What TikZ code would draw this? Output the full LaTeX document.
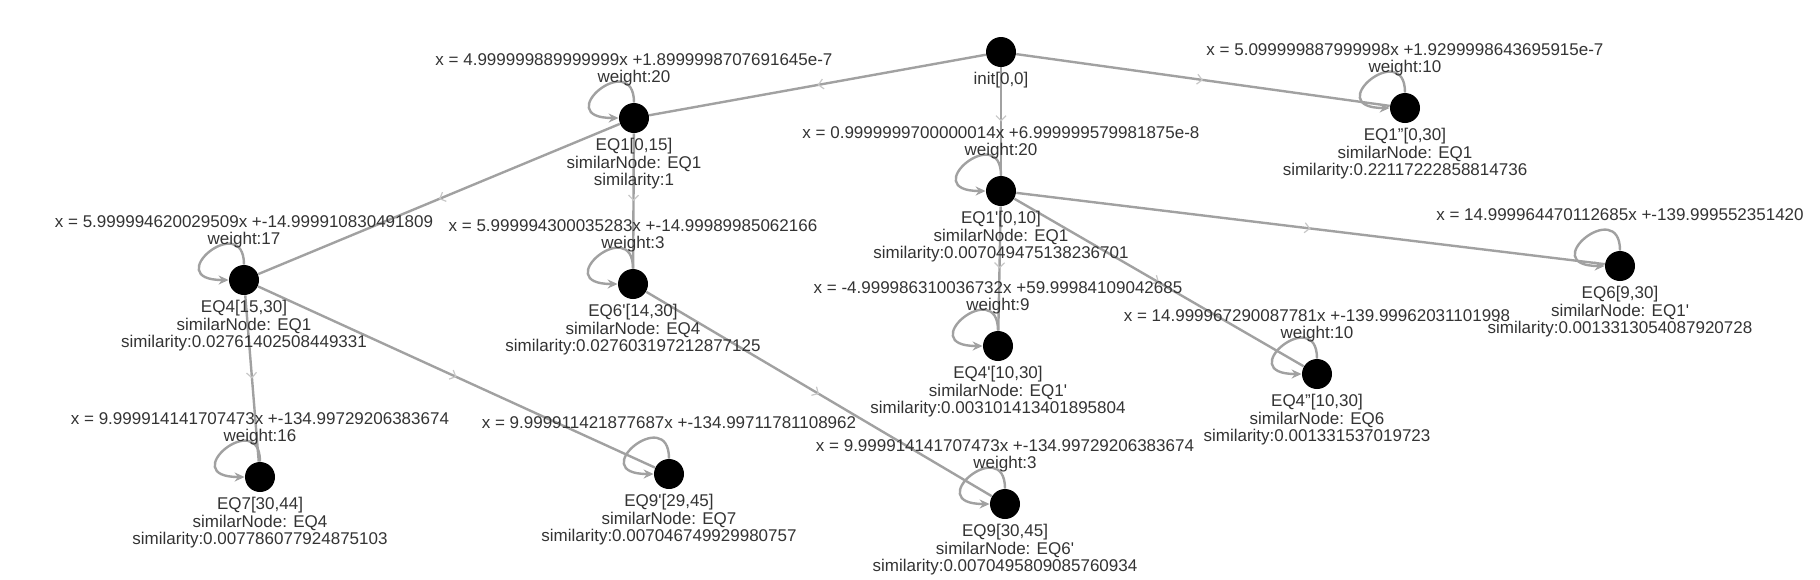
\documentclass[tikz,border=0pt]{standalone}
\usepackage{fontspec}
\setmainfont{Liberation Sans}
\usetikzlibrary{positioning, arrows.meta, decorations.markings}
\newcommand{\sq}{\textquotesingle}

\begin{document}
\begin{tikzpicture}[x=0.5pt, y=-0.5pt,
  eq/.style={circle, fill=black, inner sep=0pt, minimum size=15pt},
  info/.style={align=center, inner sep=0pt, text=black!80, font=\fontsize{8.5}{8.6}\selectfont},
  link/.style={draw=black!37, line width=1.2pt, postaction={decorate},
    decoration={markings, mark=at position 0.5 with {\arrow[black!22]{Straight Barb[length=2.5pt, width=5pt, line width=0.6pt]}}}},
  selfloop/.style={draw=black!37, line width=1.2pt, -{Stealth[length=5pt, width=4.5pt]}}]
  \useasboundingbox (0,0) rectangle (1820,579);
  % graph nodes
  \path (1001,52) node[eq] (init) {} (634,118) node[eq] (eq1) {}
  (1405,108) node[eq] (eq1pp) {} (1001,191) node[eq] (eq1p) {}
  (244,280) node[eq] (eq4) {} (633,284) node[eq] (eq6p) {}
  (1620,266) node[eq] (eq6) {} (998,346) node[eq] (eq4p) {}
  (1317,374) node[eq] (eq4pp) {} (260,477) node[eq] (eq7) {}
  (669,474) node[eq] (eq9p) {} (1005,504) node[eq] (eq9) {};
  % transitions
  \draw[link] (init) -- (eq1);
  \draw[link] (init) -- (eq1pp);
  \draw[link] (init) -- (eq1p);
  \draw[link] (eq1) -- (eq4);
  \draw[link] (eq1) -- (eq6p);
  \draw[link] (eq1p) -- (eq6);
  \draw[link] (eq1p) -- (eq4p);
  \draw[link] (eq1p) -- (eq4pp);
  \draw[link] (eq4) -- (eq7);
  \draw[link] (eq4) -- (eq9p);
  \draw[link] (eq6p) -- (eq9);
  % self loops
  \foreach \n in {eq1, eq1pp, eq1p, eq4, eq6p, eq6, eq4p, eq4pp, eq7, eq9p, eq9}
    \draw[selfloop] (\n.north) .. controls +(0,-55) and +(-70,0) .. (\n.west);
  % texts
  \node[info, below=2.4pt of init] {init[0,0]};
  \node[info, above=8pt of eq1] {x = 4.999999889999999x +1.8999998707691645e-7\\weight:20};
  \node[info, below=2.4pt of eq1] {EQ1[0,15]\\similarNode: EQ1\\similarity:1};
  \node[info, above=8pt of eq1pp] {x = 5.099999887999998x +1.9299998643695915e-7\\weight:10};
  \node[info, below=2.4pt of eq1pp] {EQ1"[0,30]\\similarNode: EQ1\\similarity:0.22117222858814736};
  \node[info, above=8pt of eq1p] {x = 0.9999999700000014x +6.999999579981875e-8\\weight:20};
  \node[info, below=2.4pt of eq1p] {EQ1\sq[0,10]\\similarNode: EQ1\\similarity:0.007049475138236701};
  \node[info, above=8pt of eq4] {x = 5.999994620029509x +-14.999910830491809\\weight:17};
  \node[info, below=2.4pt of eq4] {EQ4[15,30]\\similarNode: EQ1\\similarity:0.02761402508449331};
  \node[info, above=8pt of eq6p] {x = 5.999994300035283x +-14.99989985062166\\weight:3};
  \node[info, below=2.4pt of eq6p] {EQ6\sq[14,30]\\similarNode: EQ4\\similarity:0.027603197212877125};
  \node[info, above=15pt of eq6] {x = 14.999964470112685x +-139.999552351420};
  \node[info, below=2.4pt of eq6] {EQ6[9,30]\\similarNode: EQ1\sq\\similarity:0.0013313054087920728};
  \node[info, above=8pt of eq4p] {x = -4.999986310036732x +59.99984109042685\\weight:9};
  \node[info, below=2.4pt of eq4p] {EQ4\sq[10,30]\\similarNode: EQ1\sq\\similarity:0.003101413401895804};
  \node[info, above=8pt of eq4pp] {x = 14.999967290087781x +-139.99962031101998\\weight:10};
  \node[info, below=2.4pt of eq4pp] {EQ4"[10,30]\\similarNode: EQ6\\similarity:0.001331537019723};
  \node[info, above=8pt of eq7] {x = 9.999914141707473x +-134.99729206383674\\weight:16};
  \node[info, below=2.4pt of eq7] {EQ7[30,44]\\similarNode: EQ4\\similarity:0.007786077924875103};
  \node[info, above=15pt of eq9p] {x = 9.999911421877687x +-134.99711781108962};
  \node[info, below=2.4pt of eq9p] {EQ9\sq[29,45]\\similarNode: EQ7\\similarity:0.007046749929980757};
  \node[info, above=8pt of eq9] {x = 9.999914141707473x +-134.99729206383674\\weight:3};
  \node[info, below=2.4pt of eq9] {EQ9[30,45]\\similarNode: EQ6\sq\\similarity:0.0070495809085760934};
\end{tikzpicture}
\end{document}
